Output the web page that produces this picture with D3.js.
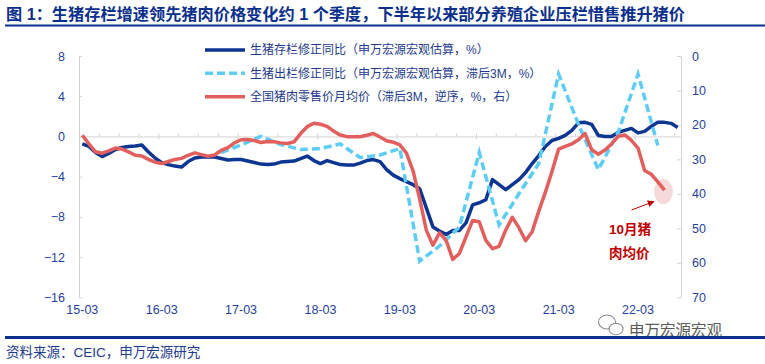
<!DOCTYPE html>
<html><head><meta charset="utf-8">
<script src="https://cdnjs.cloudflare.com/ajax/libs/d3/7.8.5/d3.min.js"></script>
<style>
body{margin:0;background:#fff;}
svg{display:block;font-family:"Liberation Sans","Noto Sans CJK SC",sans-serif;}
</style></head>
<body>
<svg id="c" width="765" height="364"></svg>
<script>
const months = [
"15-03","15-04","15-05","15-06","15-07","15-08","15-09","15-10","15-11","15-12","16-01","16-02",
"16-03","16-04","16-05","16-06","16-07","16-08","16-09","16-10","16-11","16-12","17-01","17-02",
"17-03","17-04","17-05","17-06","17-07","17-08","17-09","17-10","17-11","17-12","18-01","18-02",
"18-03","18-04","18-05","18-06","18-07","18-08","18-09","18-10","18-11","18-12","19-01","19-02",
"19-03","19-04","19-05","19-06","19-07","19-08","19-09","19-10","19-11","19-12","20-01","20-02",
"20-03","20-04","20-05","20-06","20-07","20-08","20-09","20-10","20-11","20-12","21-01","21-02",
"21-03","21-04","21-05","21-06","21-07","21-08","21-09","21-10","21-11","21-12","22-01","22-02",
"22-03","22-04","22-05","22-06","22-07","22-08","22-09"];

// 生猪存栏修正同比 (left axis)
const inventoryYoY = [
-0.75,-1.0,-1.6,-2.0,-1.7,-1.3,-1.1,-1.0,-0.95,-0.85,-1.55,-2.15,
-2.6,-2.8,-2.95,-3.05,-2.5,-2.15,-2.05,-2.05,-2.05,-2.2,-2.35,-2.3,
-2.3,-2.45,-2.6,-2.75,-2.8,-2.75,-2.55,-2.5,-2.45,-2.2,-1.95,-2.4,
-2.7,-2.4,-2.6,-2.8,-2.85,-2.85,-2.65,-2.4,-2.3,-2.5,-3.3,-3.85,
-4.2,-4.5,-4.8,-5.2,-7.1,-9.0,-9.4,-9.75,-9.35,-9.35,-8.6,-6.8,
-6.6,-6.3,-4.3,-4.8,-5.3,-4.8,-4.3,-3.6,-2.7,-1.9,-1.0,-0.4,
-0.2,0.1,0.6,1.35,1.4,1.2,0.1,0.0,0.0,0.4,0.6,0.8,
0.35,0.5,1.0,1.4,1.4,1.3,0.9];

// 生猪出栏修正同比 (left axis, lagged 3M, quarterly points)
const slaughterYoY = [
null,null,null,null,null,null,null,null,null,null,null,null,
null,null,null,null,null,null,null,null,null,-1.6,null,null,
-0.85,null,null,0.0,null,null,-0.8,null,null,-1.3,null,null,
-1.2,null,null,-0.75,null,null,-2.1,null,null,-1.85,null,null,
-1.2,null,null,-12.4,null,null,-10.9,null,null,-9.0,null,null,
-1.6,null,null,-8.8,null,null,-5.7,null,null,-2.7,null,null,
6.2,null,null,1.2,null,null,-3.3,null,null,0.4,null,null,
6.2,null,null,-0.9,null,null,null];

// 全国猪肉零售价月均价 (right axis, lagged 3M, reversed)
const porkPrice = [
23.0,25.5,27.8,28.2,27.5,26.7,27.0,27.8,28.8,29.0,30.0,30.8,
31.2,30.6,30.0,29.7,28.8,28.1,28.6,29.1,28.7,27.4,26.6,25.2,
24.3,24.2,24.5,25.1,24.8,24.9,25.2,25.4,24.9,22.5,20.5,19.5,
19.8,20.4,21.8,22.9,23.4,23.4,23.4,23.0,22.5,23.5,24.6,25.0,
25.8,28.2,33.3,41.5,50.5,54.9,51.3,53.5,59.0,57.3,52.5,47.7,
48.1,53.5,55.9,55.2,50.5,46.8,49.8,53.6,51.0,45.0,39.5,33.5,
27.0,26.2,25.5,24.3,22.5,27.2,28.5,27.3,25.5,23.3,22.9,24.5,
26.7,33.2,34.3,36.5,38.9,null,null];

const xTickLabels = ["15-03","16-03","17-03","18-03","19-03","20-03","21-03","22-03"];
const leftTicks = [-16,-12,-8,-4,0,4,8];
const rightTicks = [0,10,20,30,40,50,60,70];
const seriesNames = [
  "生猪存栏修正同比（申万宏源宏观估算，%）",
  "生猪出栏修正同比（申万宏源宏观估算，滞后3M，%）",
  "全国猪肉零售价月均价（滞后3M，逆序，%，右）"
];
const titleText = "图 1：生猪存栏增速领先猪肉价格变化约 1 个季度，下半年以来部分养殖企业压栏惜售推升猪价";
const sourceText = "资料来源：CEIC，申万宏源研究";
const noteLines = ["10月猪","肉均价"];

const C_DARK = "#0d3592", C_LIGHT = "#5dcdf6", C_RED = "#e35f5d";
const C_TXT = "#1f3fa0", C_AXIS = "#d4d4d4", C_HEAD = "#0b2f8c";

const svg = d3.select("#c");
const L = 79, R = 681, T = 56, B = 297.3;

const x = d3.scaleBand().domain(months).range([L, R]).padding(0);
const cx = m => x(m) + x.bandwidth()/2;
const yL = d3.scaleLinear().domain([-16, 8]).range([B, T]);
const yR = d3.scaleLinear().domain([70, 0]).range([B, T]);
const xi = d3.scaleLinear().domain([0, months.length]).range([L, R]);

// Title
svg.append("text").attr("x", 6).attr("y", 20).attr("font-size", 16.2).attr("font-weight", "bold")
  .attr("fill", C_HEAD).text(titleText);
svg.append("rect").attr("x", 5).attr("y", 24.5).attr("width", 760).attr("height", 2).attr("fill", C_HEAD);

// Left axis
const gl = svg.append("g").attr("transform", `translate(${L},0)`)
  .call(d3.axisLeft(yL).tickValues(leftTicks).tickSizeInner(-3).tickSizeOuter(0).tickPadding(14));
// Right axis
const gr = svg.append("g").attr("transform", `translate(${R},0)`)
  .call(d3.axisRight(yR).tickValues(rightTicks).tickSizeInner(-4).tickSizeOuter(0).tickPadding(11));
[gl, gr].forEach(g => {
  g.select(".domain").attr("stroke", C_AXIS);
  g.selectAll(".tick line").attr("stroke", C_AXIS);
  g.selectAll("text").attr("fill", C_TXT).attr("font-size", 12.5)
    .attr("font-family", "Liberation Sans, Arial, sans-serif");
});

// Horizontal zero axis with ticks
const y0 = yL(0);
const gx = svg.append("g").attr("transform", `translate(0,${y0})`)
  .call(d3.axisTop(xi).tickValues(d3.range(0, months.length + 1, 3)).tickSize(3).tickSizeOuter(0).tickFormat(""));
gx.select(".domain").attr("stroke", C_AXIS);
gx.selectAll(".tick line").attr("stroke", C_AXIS);
const gx2 = svg.append("g").attr("transform", `translate(0,${y0})`)
  .call(d3.axisBottom(xi).tickValues(d3.range(0, months.length + 1, 12)).tickSize(3).tickSizeOuter(0).tickFormat(""));
gx2.select(".domain").remove();
gx2.selectAll(".tick line").attr("stroke", C_AXIS);

// Bottom category labels
const gb = svg.append("g").attr("transform", `translate(0,298)`)
  .call(d3.axisBottom(x).tickValues(xTickLabels).tickSize(0).tickPadding(7));
gb.select(".domain").remove();
gb.selectAll("text").attr("fill", C_TXT).attr("font-size", 12.5)
  .attr("font-family", "Liberation Sans, Arial, sans-serif");

// Highlight ellipse at last red point
const lastIdx = porkPrice.reduce((a, v, i) => v != null ? i : a, 0);
svg.append("ellipse").attr("cx", cx(months[lastIdx]) - 1).attr("cy", yR(porkPrice[lastIdx]) + 1.5)
  .attr("rx", 9.5).attr("ry", 12.5).attr("fill", "#f6dada");

// Lines
const plot = svg.append("g");
const lineL = d3.line().x(d => cx(d.m)).y(d => yL(d.v));
const lineR = d3.line().x(d => cx(d.m)).y(d => yR(d.v));
const toPts = arr => arr.map((v, i) => ({m: months[i], v})).filter(d => d.v != null);

plot.append("path").attr("d", lineL(toPts(inventoryYoY))).attr("fill", "none")
  .attr("stroke", C_DARK).attr("stroke-width", 3.5).attr("stroke-linejoin", "round");
plot.append("path").attr("d", lineL(toPts(slaughterYoY))).attr("fill", "none")
  .attr("stroke", C_LIGHT).attr("stroke-width", 3.5).attr("stroke-dasharray", "8,4");
plot.append("path").attr("d", lineR(toPts(porkPrice))).attr("fill", "none")
  .attr("stroke", C_RED).attr("stroke-width", 3.5).attr("stroke-linejoin", "round");

// Legend
const legY = [50, 73.3, 96.7];
const legStyles = [
  {c: C_DARK, d: null}, {c: C_LIGHT, d: "8,4"}, {c: C_RED, d: null}
];
seriesNames.forEach((n, i) => {
  const l = svg.append("line").attr("x1", 205).attr("x2", 245).attr("y1", legY[i]).attr("y2", legY[i])
    .attr("stroke", legStyles[i].c).attr("stroke-width", 3.5);
  if (legStyles[i].d) l.attr("stroke-dasharray", legStyles[i].d);
  svg.append("text").attr("x", 250).attr("y", legY[i] + 4.3).attr("font-size", 12)
    .attr("fill", "#1d3a8e").text(n);
});

// Annotation arrow + text
const defs = svg.append("defs");
defs.append("marker").attr("id", "ah").attr("viewBox", "0 0 10 10").attr("refX", 9).attr("refY", 5)
  .attr("markerWidth", 7).attr("markerHeight", 7).attr("orient", "auto")
  .append("path").attr("d", "M0,0 L10,5 L0,10 z").attr("fill", "#c00000");
svg.append("line").attr("x1", 631.5).attr("y1", 210).attr("x2", 654).attr("y2", 201.5)
  .attr("stroke", "#c00000").attr("stroke-width", 1).attr("marker-end", "url(#ah)");
noteLines.forEach((t, i) => {
  svg.append("text").attr("x", 609).attr("y", 234 + i * 23.5).attr("font-size", 13.5)
    .attr("font-weight", "bold").attr("fill", "#c00000").text(t);
});

// Watermark
const wm = svg.append("g").attr("fill", "#fff").attr("stroke", "#8a8a8a").attr("stroke-width", 1.1);
wm.append("ellipse").attr("cx", 607).attr("cy", 322).attr("rx", 8.5).attr("ry", 7);
wm.append("ellipse").attr("cx", 616).attr("cy", 329).attr("rx", 7).attr("ry", 5.8);
svg.append("text").attr("x", 629).attr("y", 335.5).attr("font-size", 15.5).attr("fill", "#5a5a5a")
  .attr("font-family", "Noto Sans CJK SC, sans-serif").text("申万宏源宏观");

// Footer
svg.append("rect").attr("x", 5).attr("y", 336).attr("width", 760).attr("height", 3).attr("fill", C_HEAD);
svg.append("text").attr("x", 6).attr("y", 357).attr("font-size", 13.5).attr("fill", "#1d3a8e").text(sourceText);
</script>
</body></html>
